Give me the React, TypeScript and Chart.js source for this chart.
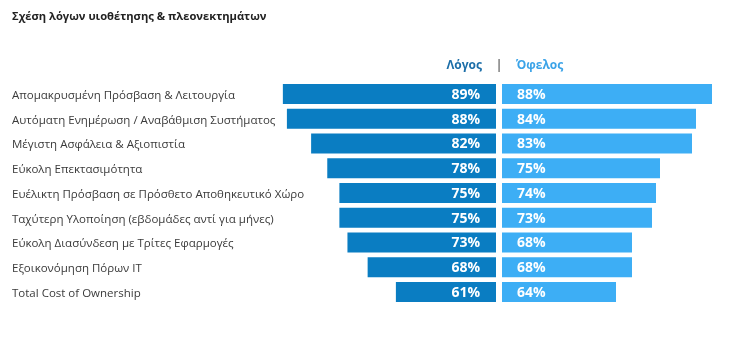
import React, { useEffect, useRef } from "react";
import { Chart, registerables } from "chart.js";

Chart.register(...registerables);

const TITLE = "Σχέση λόγων υιοθέτησης & πλεονεκτημάτων";
const categories = [
  "Απομακρυσμένη Πρόσβαση & Λειτουργία",
  "Αυτόματη Ενημέρωση / Αναβάθμιση Συστήματος",
  "Μέγιστη Ασφάλεια & Αξιοπιστία",
  "Εύκολη Επεκτασιμότητα",
  "Ευέλικτη Πρόσβαση σε Πρόσθετο Αποθηκευτικό Χώρο",
  "Ταχύτερη Υλοποίηση (εβδομάδες αντί για μήνες)",
  "Εύκολη Διασύνδεση με Τρίτες Εφαρμογές",
  "Εξοικονόμηση Πόρων IT",
  "Total Cost of Ownership",
];
const reasonLabel = "Λόγος";
const benefitLabel = "Όφελος";
const reasonValues = [89, 88, 82, 78, 75, 75, 73, 68, 61];
const benefitValues = [88, 84, 83, 75, 74, 73, 68, 68, 64];

const DARK = "#0a7dc2";
const LIGHT = "#3daef5";
const FONT = "'Open Sans', 'DejaVu Sans', sans-serif";

const W = 731;
const H = 361;
const SPLIT_L = 496;
const SPLIT_R = 502;
const TOP = 81.6;
const BOTTOM = 56.6;

function valueLabels(side: "left" | "right") {
  return {
    id: "valueLabels" + side,
    afterDatasetsDraw(chart: any) {
      const ctx = chart.ctx;
      const meta = chart.getDatasetMeta(0);
      const xScale = chart.scales.x;
      const basePx = xScale.getPixelForValue(xScale.min);
      const data = chart.data.datasets[0].data as number[];
      ctx.save();
      ctx.font = `bold 14px ${FONT}`;
      ctx.fillStyle = "#ffffff";
      ctx.textBaseline = "middle";
      meta.data.forEach((bar: any, i: number) => {
        const p = bar.getProps(["y"], true);
        if (side === "left") {
          ctx.textAlign = "right";
          ctx.fillText(`${data[i]}%`, basePx - 16, p.y + 1);
        } else {
          ctx.textAlign = "left";
          ctx.fillText(`${data[i]}%`, basePx + 15, p.y + 1);
        }
      });
      ctx.restore();
    },
  };
}

function header(side: "left" | "right", color: string) {
  return {
    id: "header" + side,
    afterDraw(chart: any) {
      const ctx = chart.ctx;
      const area = chart.chartArea;
      const label = chart.data.datasets[0].label;
      ctx.save();
      ctx.font = `bold 12px ${FONT}`;
      ctx.fillStyle = color;
      ctx.textBaseline = "middle";
      if (side === "left") {
        ctx.textAlign = "right";
        ctx.fillText(label, area.right - 14, 66);
        ctx.fillStyle = "#7a7a7a";
        ctx.textAlign = "center";
        ctx.font = `bold 13px ${FONT}`;
        ctx.fillText("|", area.right + 3, 65);
      } else {
        ctx.textAlign = "left";
        ctx.fillText(label, area.left + 14, 66);
      }
      ctx.restore();
    },
  };
}

export default function App() {
  const leftRef = useRef<HTMLCanvasElement>(null);
  const rightRef = useRef<HTMLCanvasElement>(null);

  useEffect(() => {
    const left = new Chart(leftRef.current!, {
      type: "bar",
      data: {
        labels: categories,
        datasets: [
          {
            label: reasonLabel,
            data: reasonValues,
            backgroundColor: DARK,
            barPercentage: 0.808,
            categoryPercentage: 1,
          },
        ],
      },
      options: {
        indexAxis: "y",
        responsive: false,
        animation: false,
        layout: { padding: { left: 12, right: W - SPLIT_L, top: 0, bottom: BOTTOM } },
        plugins: {
          legend: { display: false },
          tooltip: { enabled: false },
          title: {
            display: true,
            text: TITLE,
            align: "start",
            color: "#222222",
            font: { family: FONT, size: 11.2, weight: "bold", lineHeight: 1.2 },
            padding: { top: 10, bottom: TOP - 10 - 11.2 * 1.2 },
          },
        },
        scales: {
          x: {
            type: "linear",
            reverse: true,
            min: 36.2,
            max: 156.1,
            display: false,
          },
          y: {
            type: "category",
            grid: { display: false, drawTicks: false, tickLength: 0 },
            border: { display: false },
            ticks: {
              mirror: true,
              padding: 0,
              crossAlign: "near",
              labelOffset: 1.5,
              color: "#3a3a3a",
              font: { family: FONT, size: 11.5 },
            },
          },
        },
      },
      plugins: [valueLabels("left"), header("left", "#1c6ea8")],
    } as any);

    const right = new Chart(rightRef.current!, {
      type: "bar",
      data: {
        labels: categories,
        datasets: [
          {
            label: benefitLabel,
            data: benefitValues,
            backgroundColor: LIGHT,
            barPercentage: 0.808,
            categoryPercentage: 1,
          },
        ],
      },
      options: {
        indexAxis: "y",
        responsive: false,
        animation: false,
        layout: { padding: { left: SPLIT_R, right: 0, top: TOP, bottom: BOTTOM } },
        plugins: {
          legend: { display: false },
          tooltip: { enabled: false },
          title: { display: false },
        },
        scales: {
          x: { type: "linear", min: 35.5, max: 92.75, display: false },
          y: { type: "category", display: false },
        },
      },
      plugins: [valueLabels("right"), header("right", "#3aa3e8")],
    } as any);

    return () => {
      left.destroy();
      right.destroy();
    };
  }, []);

  return (
    <div
      style={{
        position: "fixed",
        left: 0,
        top: 0,
        width: W,
        height: H,
        background: "#ffffff",
      }}
    >
      <canvas
        ref={leftRef}
        width={W}
        height={H}
        style={{ position: "absolute", left: 0, top: 0, display: "block" }}
      />
      <canvas
        ref={rightRef}
        width={W}
        height={H}
        style={{ position: "absolute", left: 0, top: 0, display: "block" }}
      />
    </div>
  );
}
